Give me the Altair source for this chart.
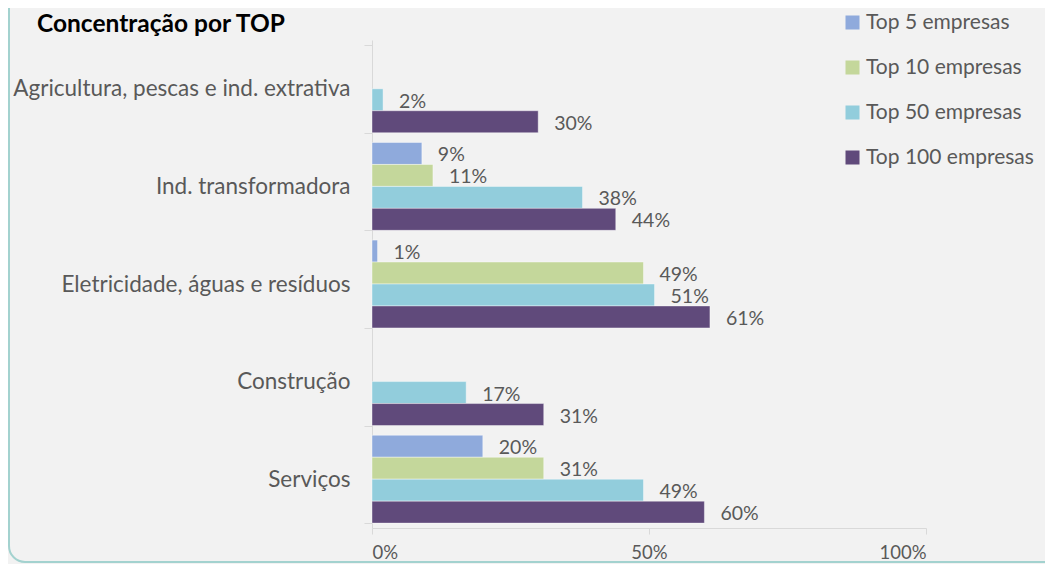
import altair as alt
import pandas as pd

categories = ["Agricultura, pescas e ind. extrativa", "Ind. transformadora",
              "Eletricidade, águas e resíduos", "Construção", "Serviços"]
series = ["Top 5 empresas", "Top 10 empresas", "Top 50 empresas", "Top 100 empresas"]
top5 = [0.0, 0.09, 0.01, 0.0, 0.20]
top10 = [0.0, 0.11, 0.49, 0.0, 0.31]
top50 = [0.02, 0.38, 0.51, 0.17, 0.49]
top100 = [0.30, 0.44, 0.61, 0.31, 0.60]
colors = ["#8FAADC", "#C4D79B", "#92CDDC", "#604A7B"]
x_ticks = [0, 0.5, 1.0]
title_text = "Concentração por TOP"

rows = []
for s, vals in zip(series, [top5, top10, top50, top100]):
    for c, v in zip(categories, vals):
        rows.append({"categoria": c, "serie": s, "valor": v})
df = pd.DataFrame(rows)

FONT = "Lato"
GREY = "#595959"

y_enc = alt.Y("categoria:N", sort=categories,
              scale=alt.Scale(paddingInner=0.1, paddingOuter=0.05),
              axis=alt.Axis(title=None, labelFont=FONT, labelFontSize=22.5, labelColor=GREY,
                            domainColor="#D9D9D9", tickColor="#D9D9D9", tickSize=8,
                            tickBand="extent", labelPadding=14, labelLimit=500))
yoff_enc = alt.YOffset("serie:N", sort=series, scale=alt.Scale(paddingInner=0, paddingOuter=0))
x_enc = alt.X("valor:Q", scale=alt.Scale(domain=[0, 1], nice=False),
              axis=alt.Axis(title=None, values=x_ticks, format=".0%", grid=False,
                            labelFont=FONT, labelFontSize=18.5, labelColor=GREY,
                            domainColor="#D9D9D9", tickColor="#D9D9D9", tickSize=6,
                            labelPadding=9))

base = alt.Chart(df).transform_filter("datum.valor > 0")

bars = base.mark_bar(stroke="#FFFFFF", strokeWidth=0.8, strokeOpacity=0.5).encode(
    x=x_enc, y=y_enc, yOffset=yoff_enc,
    color=alt.Color("serie:N", sort=series,
                    scale=alt.Scale(domain=series, range=colors),
                    legend=alt.Legend(title=None, orient="none", legendX=470, legendY=-28,
                                      symbolType="square", symbolSize=196, symbolStrokeWidth=0,
                                      labelFont=FONT, labelFontSize=21, labelColor=GREY,
                                      labelOffset=3, rowPadding=23, labelLimit=400)),
)

labels = base.mark_text(align="left", baseline="middle", dx=16, dy=2,
                        font=FONT, fontSize=19.5, color=GREY).encode(
    x="valor:Q", y=alt.Y("categoria:N", sort=categories), yOffset=alt.YOffset("serie:N", sort=series),
    text=alt.Text("valor:Q", format=".0%"),
)

one = pd.DataFrame({"k": [0]})
frame = alt.Chart(one).mark_rect(fillOpacity=0, stroke="#A3D2CF", strokeWidth=2,
                                 cornerRadius=16).encode(
    x=alt.value(-363), x2=alt.value(800), y=alt.value(-80), y2=alt.value(522))

title = alt.Chart(pd.DataFrame({"t": [title_text]})).mark_text(
    align="left", baseline="middle", font=FONT, fontSize=24.5, fontWeight="bold",
    color="#000000").encode(x=alt.value(-335), y=alt.value(-15), text="t:N")

chart = alt.layer(frame, bars, labels, title).properties(
    width=554, height=488,
    autosize=alt.AutoSizeParams(type="none"),
    padding={"left": 364, "top": 32, "right": 119, "bottom": 36},
    background="#F2F2F2",
).configure_view(strokeOpacity=0)

chart.save("out.html", embed_options={"renderer": "svg", "actions": False})
